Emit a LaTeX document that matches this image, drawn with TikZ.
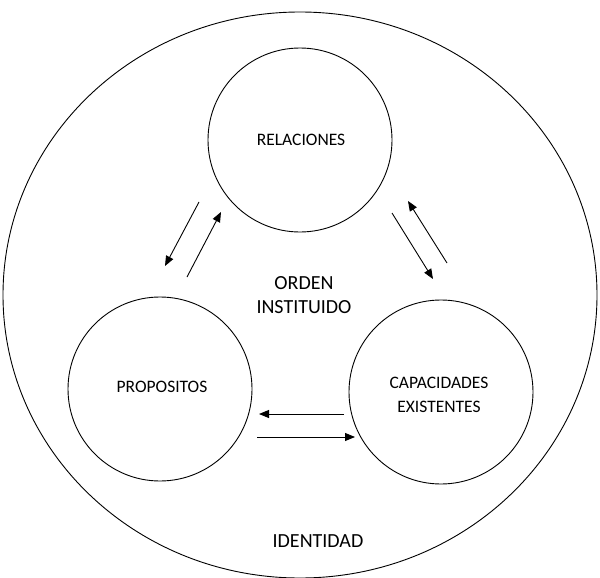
\documentclass[tikz,border=0pt]{standalone}
\usepackage{fontspec}
\setmainfont{Carlito}
\usetikzlibrary{arrows.meta}
\begin{document}
\begin{tikzpicture}[x=1pt,y=-1pt,
  ring/.style={draw, line width=0.9pt, circle, minimum size=184pt, inner sep=0pt},
  ringtext/.style={align=center, font=\fontsize{17.5}{24}\selectfont},
  flow/.style={line width=0.9pt, -{Triangle[length=10pt,width=8pt]}},
  label/.style={align=center, font=\fontsize{20}{24}\selectfont}]
  \useasboundingbox (0,0) rectangle (600,578);
  % outer boundary: identity
  \draw[line width=0.9pt] (300,295) ellipse [x radius=297, y radius=283];
  % the three inner components
  \node[ring] (rel) at (300,140) {};
  \node[ring] (pro) at (160,389) {};
  \node[ring] (cap) at (441,392) {};
  \node[ringtext] (relt) at (301,140) {RELACIONES};
  \node[ringtext] (prot) at (162,387) {PROPOSITOS};
  \node[ringtext] (capt) at (439,395) {CAPACIDADES\\EXISTENTES};
  \node[label] (orden) at (304,295) {ORDEN\\INSTITUIDO};
  \node[label] (ident) at (318,541) {IDENTIDAD};
  % connector end points between the circles
  \coordinate (a1) at (199,202); \coordinate (a2) at (165,266);
  \coordinate (b1) at (187,277); \coordinate (b2) at (221,212);
  \coordinate (c1) at (392,213); \coordinate (c2) at (433,279);
  \coordinate (d1) at (447,263); \coordinate (d2) at (408,201);
  \coordinate (e1) at (344,414); \coordinate (e2) at (259,414);
  \coordinate (f1) at (257,437); \coordinate (f2) at (355,437);
  \draw[flow] (a1) -- (a2);
  \draw[flow] (b1) -- (b2);
  \draw[flow] (c1) -- (c2);
  \draw[flow] (d1) -- (d2);
  \draw[flow] (e1) -- (e2);
  \draw[flow] (f1) -- (f2);
\end{tikzpicture}
\end{document}
